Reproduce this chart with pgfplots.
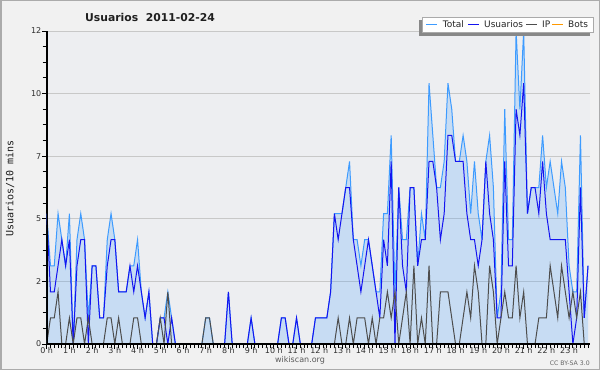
\documentclass[border=0pt]{standalone}
\usepackage{fontspec}
\setmainfont{DejaVu Sans}
\newfontfamily\monofont{DejaVu Sans Mono}
\usepackage{pgfplots}
\usepackage{pgfplotstable}
\pgfplotsset{compat=1.18}
\definecolor{outerbg}{HTML}{F1F1F1}
\definecolor{plotbg}{HTML}{EDEEF1}
\definecolor{framec}{HTML}{ABABAB}
\definecolor{totalc}{HTML}{3D9BFF}
\definecolor{userc}{HTML}{1414F0}
\definecolor{ipc}{HTML}{4D4D4D}
\definecolor{botc}{HTML}{FF9900}
\definecolor{gridc}{HTML}{C8C8C8}
\definecolor{labelc}{HTML}{303030}
\definecolor{shadowc}{HTML}{888888}
\definecolor{legbord}{HTML}{AAAAAA}
\pgfplotstableread{
i T U IP
0 5 5 0
1 3 2 1
2 3 2 1
3 5 3 2
4 4 4 0
5 3 3 0
6 5 4 1
7 0 0 0
8 4 3 1
9 5 4 1
10 4 4 0
11 1 0 1
12 3 3 0
13 3 3 0
14 1 1 0
15 1 1 0
16 4 3 1
17 5 4 1
18 4 4 0
19 2 2 1
20 2 2 0
21 2 2 0
22 3 3 0
23 3 2 1
24 4 3 1
25 2 2 0
26 1 1 0
27 2 2 0
28 0 0 0
29 0 0 0
30 1 1 1
31 1 1 0
32 2 0 2
33 1 1 0
34 0 0 0
35 0 0 0
36 0 0 0
37 0 0 0
38 0 0 0
39 0 0 0
40 0 0 0
41 0 0 0
42 1 0 1
43 1 0 1
44 0 0 0
45 0 0 0
46 0 0 0
47 0 0 0
48 2 2 0
49 0 0 0
50 0 0 0
51 0 0 0
52 0 0 0
53 0 0 0
54 1 1 0
55 0 0 0
56 0 0 0
57 0 0 0
58 0 0 0
59 0 0 0
60 0 0 0
61 0 0 0
62 1 1 0
63 1 1 0
64 0 0 0
65 0 0 0
66 1 1 0
67 0 0 0
68 0 0 0
69 0 0 0
70 0 0 0
71 1 1 0
72 1 1 0
73 1 1 0
74 1 1 0
75 2 2 0
76 5 5 0
77 5 4 1
78 5 5 0
79 6 6 0
80 7 6 1
81 4 4 0
82 4 3 1
83 3 2 1
84 4 3 1
85 4 4 0
86 3 3 1
87 2 2 0
88 2 1 1
89 5 4 1
90 5 3 2
91 8 7 1
92 2 0 2
93 6 6 0
94 4 3 1
95 4 2 2
96 6 6 0
97 6 6 3
98 3 3 0
99 5 4 1
100 4 4 0
101 10 7 3
102 8 7 0
103 6 6 0
104 6 4 2
105 7 5 2
106 10 8 2
107 9 8 1
108 7 7 0
109 7 7 0
110 8 7 1
111 7 5 2
112 5 4 1
113 7 4 3
114 5 3 2
115 4 4 0
116 7 7 0
117 8 5 3
118 6 4 2
119 1 1 0
120 2 1 1
121 9 7 2
122 4 3 1
123 4 3 1
124 12 9 3
125 9 8 1
126 12 10 2
127 5 5 0
128 6 6 0
129 6 6 0
130 6 5 1
131 8 7 1
132 6 5 1
133 7 4 3
134 6 4 2
135 5 4 1
136 7 4 3
137 6 4 2
138 3 2 1
139 2 0 2
140 2 1 1
141 8 6 2
142 1 1 0
143 3 3 0
}\data
\begin{document}
\begin{tikzpicture}[x=1pt,y=1pt]
\fill[outerbg] (0,0) rectangle (600,370);
\draw[framec, line width=1.5pt] (0.75,0.75) rectangle (599.25,369.25);
\begin{axis}[
  at={(46.7pt,26pt)}, anchor=south west,
  scale only axis, width=543.6pt, height=313pt,
  xmin=0, xmax=143.6, ymin=0, ymax=12,
  axis x line*=bottom, axis y line*=left,
  axis line style={black, line width=1.6pt},
  axis background/.style={fill=plotbg},
  /pgf/number format/assume math mode=true,
  xtick={0,6,...,138},
  xticklabels={0 h,1 h,2 h,3 h,4 h,5 h,6 h,7 h,8 h,9 h,10 h,11 h,12 h,13 h,14 h,15 h,16 h,17 h,18 h,19 h,20 h,21 h,22 h,23 h},
  minor xtick={0,1,...,143},
  ytick={0,2.4,4.8,7.2,9.6,12},
  yticklabels={0,2,5,7,10,12},
  minor ytick={0.6,1.2,1.8,3.0,3.6,4.2,5.4,6.0,6.6,7.8,8.4,9.0,10.2,10.8,11.4},
  tick align=outside,
  major tick length=4.5pt, minor tick length=4pt,
  tick style={black, line width=0.9pt},
  ymajorgrids, major grid style={gridc, line width=0.9pt},
  xticklabel style={font=\fontsize{8}{9}\selectfont, text=labelc, inner sep=0pt, yshift=0.9pt},
  yticklabel style={font=\fontsize{8}{9}\selectfont, text=labelc, inner sep=0.8pt},
]
\addplot[draw=none, fill=totalc, fill opacity=0.21] table[x=i, y=T] {\data} \closedcycle;
\addplot[totalc, line width=1pt] table[x=i, y=T] {\data};
\addplot[userc, line width=1pt] table[x=i, y=U] {\data};
\addplot[ipc, line width=1pt] table[x=i, y=IP] {\data};
\draw[black, line width=1.6pt] (rel axis cs:0,0) -- (rel axis cs:1,0);
\draw[black, line width=1.6pt] (rel axis cs:0,0) -- (rel axis cs:0,1);
\end{axis}
% legend
\fill[shadowc] (419,334) rectangle (590,350);
\filldraw[fill=white, draw=legbord, line width=0.8pt] (422,338) rectangle (593,353);
\draw[totalc, line width=1pt] (426,345.7) -- (437,345.7);
\node[anchor=base west, inner sep=0pt, font=\fontsize{9}{10}\selectfont, text=black!85] at (442.7,342.3) {Total};
\draw[userc, line width=1pt] (468,345.7) -- (479,345.7);
\node[anchor=base west, inner sep=0pt, font=\fontsize{9}{10}\selectfont, text=black!85] at (484,342.3) {Usuarios};
\draw[ipc, line width=1pt] (526,345.7) -- (537,345.7);
\node[anchor=base west, inner sep=0pt, font=\fontsize{9}{10}\selectfont, text=black!85] at (542,342.3) {IP};
\draw[botc, line width=1pt] (552,345.7) -- (563,345.7);
\node[anchor=base west, inner sep=0pt, font=\fontsize{9}{10}\selectfont, text=black!85] at (568,342.3) {Bots};
% texts
\node[anchor=base west, inner sep=0pt, font=\bfseries\fontsize{10.8}{12}\selectfont, text=black!88] at (85,348) {Usuarios\ \ 2011-02-24};
\node[rotate=90, inner sep=0pt, font=\monofont\fontsize{10}{11}\selectfont, text=black!90] at (10,181.5) {Usuarios/10 mins};
\node[anchor=base, inner sep=0pt, font=\fontsize{8}{9}\selectfont, text=black!65] at (300,7.8) {wikiscan.org};
\node[anchor=base east, inner sep=0pt, font=\fontsize{6.2}{7}\selectfont, text=black!60] at (590,5) {CC BY-SA 3.0};
\end{tikzpicture}
\end{document}
